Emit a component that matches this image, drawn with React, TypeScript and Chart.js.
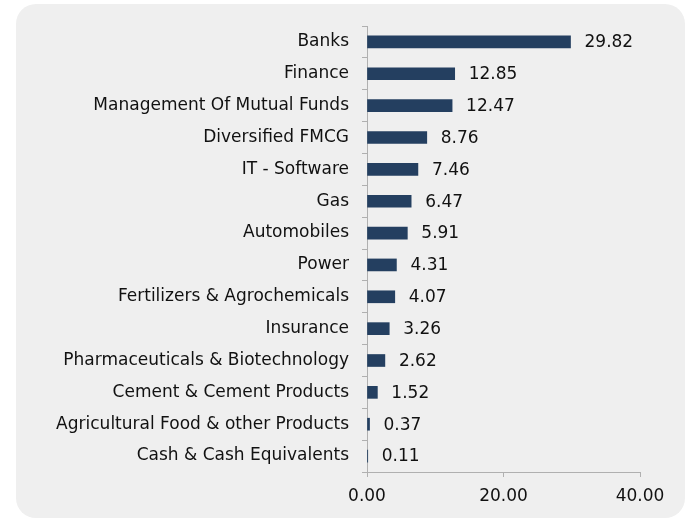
import React, { useEffect, useRef } from "react";
import { Chart, registerables } from "chart.js";

Chart.register(...registerables);

const categories = [
  "Banks",
  "Finance",
  "Management Of Mutual Funds",
  "Diversified FMCG",
  "IT - Software",
  "Gas",
  "Automobiles",
  "Power",
  "Fertilizers & Agrochemicals",
  "Insurance",
  "Pharmaceuticals & Biotechnology",
  "Cement & Cement Products",
  "Agricultural Food & other Products",
  "Cash & Cash Equivalents",
];
const values = [29.82, 12.85, 12.47, 8.76, 7.46, 6.47, 5.91, 4.31, 4.07, 3.26, 2.62, 1.52, 0.37, 0.11];
const xTicks = [0, 20, 40];

const FONT = "'DejaVu Sans', sans-serif";
const SIZE = 17;

const bgPlugin = {
  id: "bgBox",
  beforeDraw(chart: any) {
    const ctx = chart.ctx;
    ctx.save();
    ctx.fillStyle = "#efefef";
    ctx.beginPath();
    ctx.roundRect(16, 4, 669, 514, 20);
    ctx.fill();
    ctx.restore();
  },
};

const labelPlugin = {
  id: "valueLabels",
  afterDatasetsDraw(chart: any) {
    const ctx = chart.ctx;
    const meta = chart.getDatasetMeta(0);
    ctx.save();
    ctx.font = `${SIZE}px ${FONT}`;
    ctx.fillStyle = "#111111";
    ctx.textAlign = "left";
    ctx.textBaseline = "middle";
    meta.data.forEach((bar: any, i: number) => {
      ctx.fillText(values[i].toFixed(2), bar.x + 14, bar.y + 1);
    });
    ctx.restore();
  },
};

export default function App() {
  const ref = useRef<HTMLCanvasElement>(null);
  useEffect(() => {
    if (!ref.current) return;
    const chart = new Chart(ref.current, {
      type: "bar",
      data: {
        labels: categories,
        datasets: [
          {
            data: values,
            backgroundColor: "#243f60",
            borderWidth: 0,
            barThickness: 12,
          },
        ],
      },
      options: {
        indexAxis: "y",
        animation: false,
        responsive: false,
        layout: { padding: { left: 0, top: 26, right: 49, bottom: 0 } },
        plugins: { legend: { display: false }, tooltip: { enabled: false } },
        scales: {
          x: {
            min: 0,
            max: 40,
            afterBuildTicks(axis: any) {
              axis.ticks = xTicks.map((v) => ({ value: v }));
            },
            afterFit(axis: any) {
              axis.height = 519 - 472;
            },
            grid: {
              drawOnChartArea: false,
              tickLength: 5,
              color: "#b0b0b0",
            },
            border: { color: "#b0b0b0" },
            ticks: {
              padding: 9,
              color: "#111111",
              font: { family: FONT, size: SIZE },
              callback: (v: any) => Number(v).toFixed(2),
              maxRotation: 0,
            },
          },
          y: {
            afterFit(axis: any) {
              axis.width = 367;
            },
            grid: {
              drawOnChartArea: false,
              tickLength: 5,
              offset: true,
              color: "#b0b0b0",
            },
            border: { color: "#b0b0b0" },
            ticks: {
              padding: 13,
              color: "#111111",
              font: { family: FONT, size: SIZE },
              autoSkip: false,
            },
          },
        },
      },
      plugins: [bgPlugin, labelPlugin],
    });
    return () => chart.destroy();
  }, []);
  return (
    <div style={{ position: "fixed", left: 0, top: 0, width: 689, height: 519 }}>
      <canvas ref={ref} width={689} height={519} style={{ display: "block" }} />
    </div>
  );
}
